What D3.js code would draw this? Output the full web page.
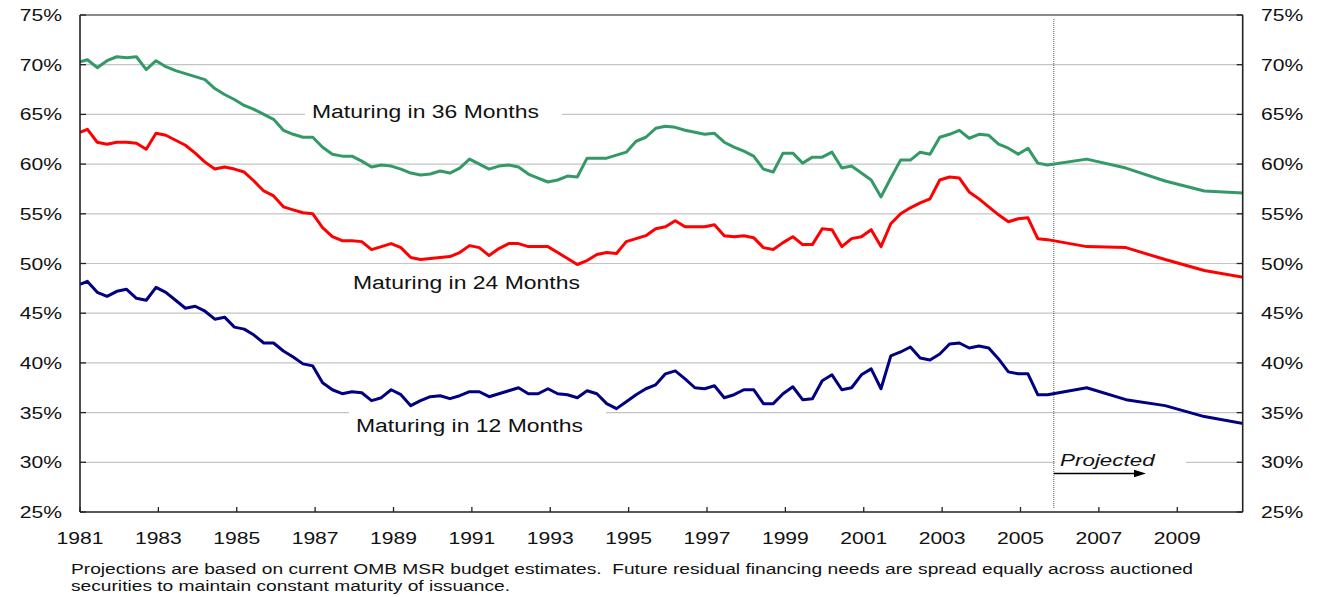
<!DOCTYPE html>
<html>
<head>
<meta charset="utf-8">
<script src="https://cdn.jsdelivr.net/npm/d3@7"></script>
<style>
  body { margin: 0; background: #fff; }
</style>
</head>
<body>
<script>
// decimal years of the quarterly points (historical), then yearly projections
const histYears = [1981.00,
  1981.19, 1981.44, 1981.69, 1981.94, 1982.19, 1982.44, 1982.69, 1982.94,
  1983.19, 1983.44, 1983.69, 1983.94, 1984.19, 1984.44, 1984.69, 1984.94,
  1985.19, 1985.44, 1985.69, 1985.94, 1986.19, 1986.44, 1986.69, 1986.94,
  1987.19, 1987.44, 1987.69, 1987.94, 1988.19, 1988.44, 1988.69, 1988.94,
  1989.19, 1989.44, 1989.69, 1989.94, 1990.19, 1990.44, 1990.69, 1990.94,
  1991.19, 1991.44, 1991.69, 1991.94, 1992.19, 1992.44, 1992.69, 1992.94,
  1993.19, 1993.44, 1993.69, 1993.94, 1994.19, 1994.44, 1994.69, 1994.94,
  1995.19, 1995.44, 1995.69, 1995.94, 1996.19, 1996.44, 1996.69, 1996.94,
  1997.19, 1997.44, 1997.69, 1997.94, 1998.19, 1998.44, 1998.69, 1998.94,
  1999.19, 1999.44, 1999.69, 1999.94, 2000.19, 2000.44, 2000.69, 2000.94,
  2001.19, 2001.44, 2001.69, 2001.94, 2002.19, 2002.44, 2002.69, 2002.94,
  2003.19, 2003.44, 2003.69, 2003.94, 2004.19, 2004.44, 2004.69, 2004.94,
  2005.19, 2005.44, 2005.69];
const projYears = [2006.69, 2007.69, 2008.69, 2009.69, 2010.69];

const mat36 = [70.3,
  70.5, 69.7, 70.4, 70.8, 70.7, 70.8, 69.5, 70.4, 69.8, 69.4,
  69.1, 68.8, 68.5, 67.6, 67.0, 66.5, 65.9, 65.5, 65.0, 64.5,
  63.4, 63.0, 62.7, 62.7, 61.7, 61.0, 60.8, 60.8, 60.3, 59.7,
  59.9, 59.8, 59.5, 59.1, 58.9, 59.0, 59.3, 59.1, 59.6, 60.5,
  60.0, 59.5, 59.8, 59.9, 59.7, 59.0, 58.6, 58.2, 58.4, 58.8,
  58.7, 60.6, 60.6, 60.6, 60.9, 61.2, 62.3, 62.7, 63.6, 63.8,
  63.7, 63.4, 63.2, 63.0, 63.1, 62.2, 61.7, 61.3, 60.8, 59.5,
  59.2, 61.1, 61.1, 60.1, 60.7, 60.7, 61.2, 59.6, 59.8, 59.1,
  58.4, 56.7, 58.6, 60.4, 60.4, 61.2, 61.0, 62.7, 63.0, 63.4,
  62.6, 63.0, 62.9, 62.0, 61.6, 61.0, 61.6, 60.1, 59.9];
const mat36Proj = [60.5, 59.6, 58.3, 57.3, 57.1];

const mat24 = [63.2,
  63.5, 62.2, 62.0, 62.2, 62.2, 62.1, 61.5, 63.1, 62.9, 62.4,
  61.9, 61.1, 60.2, 59.5, 59.7, 59.5, 59.2, 58.3, 57.3, 56.8,
  55.7, 55.4, 55.1, 55.0, 53.6, 52.7, 52.3, 52.3, 52.2, 51.4,
  51.7, 52.0, 51.6, 50.6, 50.4, 50.5, 50.6, 50.7, 51.1, 51.8,
  51.6, 50.8, 51.5, 52.0, 52.0, 51.7, 51.7, 51.7, 51.1, 50.5,
  49.9, 50.3, 50.9, 51.1, 51.0, 52.2, 52.5, 52.8, 53.5, 53.7,
  54.3, 53.7, 53.7, 53.7, 53.9, 52.8, 52.7, 52.8, 52.6, 51.6,
  51.4, 52.1, 52.7, 51.9, 51.9, 53.5, 53.4, 51.7, 52.5, 52.7,
  53.4, 51.7, 54.0, 55.0, 55.6, 56.1, 56.5, 58.4, 58.7, 58.6,
  57.2, 56.5, 55.7, 54.9, 54.2, 54.5, 54.6, 52.5, 52.4];
const mat24Proj = [51.7, 51.6, 50.4, 49.3, 48.6];

const mat12 = [47.9,
  48.2, 47.1, 46.7, 47.2, 47.4, 46.5, 46.3, 47.6, 47.1, 46.3,
  45.5, 45.7, 45.2, 44.4, 44.6, 43.6, 43.4, 42.8, 42.0, 42.0,
  41.2, 40.6, 39.9, 39.7, 38.0, 37.3, 36.9, 37.1, 37.0, 36.2,
  36.5, 37.3, 36.8, 35.7, 36.2, 36.6, 36.7, 36.4, 36.7, 37.1,
  37.1, 36.6, 36.9, 37.2, 37.5, 36.9, 36.9, 37.4, 36.9, 36.8,
  36.5, 37.2, 36.9, 35.9, 35.4, 36.1, 36.8, 37.4, 37.8, 38.9,
  39.2, 38.4, 37.5, 37.4, 37.7, 36.5, 36.8, 37.3, 37.3, 35.9,
  35.9, 36.9, 37.6, 36.3, 36.4, 38.2, 38.8, 37.3, 37.5, 38.8,
  39.4, 37.4, 40.7, 41.1, 41.6, 40.5, 40.3, 40.9, 41.9, 42.0,
  41.5, 41.7, 41.5, 40.4, 39.1, 38.9, 38.9, 36.8, 36.8];
const mat12Proj = [37.5, 36.3, 35.7, 34.6, 33.9];

const yearTicks = [1981, 1983, 1985, 1987, 1989, 1991, 1993, 1995, 1997, 1999, 2001, 2003, 2005, 2007, 2009];
const pctTicks = [25, 30, 35, 40, 45, 50, 55, 60, 65, 70, 75];
const projectionStart = 2005.85;

const footnote = [
  "Projections are based on current OMB MSR budget estimates.  Future residual financing needs are spread equally across auctioned",
  "securities to maintain constant maturity of issuance."
];

const W = 1327, H = 597;
const LEFT = 80, RIGHT = 1242.7, TOP = 15, BOTTOM = 512;
const SX = 1.32;  // the original picture is stretched sideways

const svg = d3.select('body').append('svg')
    .attr('width', W)
    .attr('height', H)
    .style('font-family', 'Arial, "Liberation Sans", sans-serif');

svg.append('rect').attr('width', W).attr('height', H).attr('fill', '#fff');

const x = d3.scaleLinear().domain([1981, 2010.67]).range([LEFT, RIGHT]);
const y = d3.scaleLinear().domain([25, 75]).range([BOTTOM, TOP]);

function wideText(sel, px, py, str, size, anchor, sx) {
    return sel.append('text')
        .attr('transform', `translate(${px},${py}) scale(${sx || SX},1)`)
        .attr('text-anchor', anchor || 'start')
        .style('font-size', size + 'px')
        .style('white-space', 'pre')
        .attr('fill', '#111')
        .text(str);
}

// gridlines
svg.append('g')
    .selectAll('line')
    .data(pctTicks.filter(v => v > 25 && v < 75))
    .enter()
    .append('line')
    .attr('x1', LEFT).attr('x2', RIGHT)
    .attr('y1', d => y(d)).attr('y2', d => y(d))
    .attr('stroke', '#c4c4c4')
    .attr('stroke-width', 1.2);

// top border
svg.append('line')
    .attr('x1', LEFT).attr('x2', RIGHT)
    .attr('y1', y(75)).attr('y2', y(75))
    .attr('stroke', '#8a8a8a')
    .attr('stroke-width', 2);

// white boxes behind labels (they cut the gridlines)
const boxes = [[305, 101, 257, 24], [349, 404, 257, 24], [1055, 448, 131, 22]];
svg.append('g')
    .selectAll('rect')
    .data(boxes)
    .enter()
    .append('rect')
    .attr('x', d => d[0]).attr('y', d => d[1])
    .attr('width', d => d[2]).attr('height', d => d[3])
    .attr('fill', '#fff');

// projection divider
svg.append('line')
    .attr('x1', x(projectionStart)).attr('x2', x(projectionStart))
    .attr('y1', TOP + 4).attr('y2', BOTTOM - 4)
    .attr('stroke', '#555')
    .attr('stroke-width', 1)
    .attr('stroke-dasharray', '1,1');

// series
svg.append('clipPath').attr('id', 'plot')
    .append('rect')
    .attr('x', LEFT).attr('y', TOP)
    .attr('width', RIGHT - LEFT).attr('height', BOTTOM - TOP);

const allYears = histYears.concat(projYears);
const series = [
    {vals: mat36.concat(mat36Proj), color: '#339966'},
    {vals: mat24.concat(mat24Proj), color: '#ff0000'},
    {vals: mat12.concat(mat12Proj), color: '#000080'}
];

const line = d3.line()
    .x((d, i) => x(allYears[i]))
    .y(d => y(d));

svg.append('g')
    .attr('clip-path', 'url(#plot)')
    .selectAll('path')
    .data(series)
    .enter()
    .append('path')
    .attr('d', d => line(d.vals))
    .attr('fill', 'none')
    .attr('stroke', d => d.color)
    .attr('stroke-width', 3)
    .attr('stroke-linejoin', 'round');

// axes frame
const axisColor = '#222';
svg.append('line').attr('x1', LEFT).attr('x2', LEFT).attr('y1', TOP).attr('y2', BOTTOM)
    .attr('stroke', axisColor).attr('stroke-width', 1.6);
svg.append('line').attr('x1', RIGHT).attr('x2', RIGHT).attr('y1', TOP).attr('y2', BOTTOM)
    .attr('stroke', axisColor).attr('stroke-width', 1.6);
svg.append('line').attr('x1', LEFT).attr('x2', RIGHT).attr('y1', BOTTOM).attr('y2', BOTTOM)
    .attr('stroke', axisColor).attr('stroke-width', 1.6);

const ticks = svg.append('g').attr('stroke', axisColor).attr('stroke-width', 1.3);
pctTicks.forEach(function(v) {
    ticks.append('line').attr('x1', LEFT).attr('x2', LEFT + 6).attr('y1', y(v)).attr('y2', y(v));
    ticks.append('line').attr('x1', RIGHT - 6).attr('x2', RIGHT).attr('y1', y(v)).attr('y2', y(v));
});
yearTicks.forEach(function(yr) {
    ticks.append('line').attr('x1', x(yr)).attr('x2', x(yr)).attr('y1', BOTTOM - 5).attr('y2', BOTTOM);
});

// tick labels
pctTicks.forEach(function(v) {
    wideText(svg, 62, y(v) + 6, v + '%', 16, 'end');
    wideText(svg, 1261, y(v) + 6, v + '%', 16, 'start');
});
yearTicks.forEach(function(yr) {
    wideText(svg, x(yr), 544, String(yr), 16, 'middle');
});

// series labels
wideText(svg, 312, 117.5, 'Maturing in 36 Months', 18, 'start', 1.275);
wideText(svg, 353, 288.5, 'Maturing in 24 Months', 18, 'start', 1.275);
wideText(svg, 356, 432, 'Maturing in 12 Months', 18, 'start', 1.275);

// projected note with arrow
wideText(svg, 1060, 465.5, 'Projected', 17).style('font-style', 'italic');
svg.append('line')
    .attr('x1', x(projectionStart)).attr('x2', 1136)
    .attr('y1', 473.5).attr('y2', 473.5)
    .attr('stroke', '#000').attr('stroke-width', 1.5);
svg.append('path')
    .attr('d', d3.line()([[1134, 469.8], [1146, 473.5], [1134, 477.2]]) + 'Z')
    .attr('fill', '#000');

// footnote
footnote.forEach(function(t, i) {
    wideText(svg, 71, 573.5 + i * 17.5, t, 14, 'start', 1.37);
});
</script>
</body>
</html>
